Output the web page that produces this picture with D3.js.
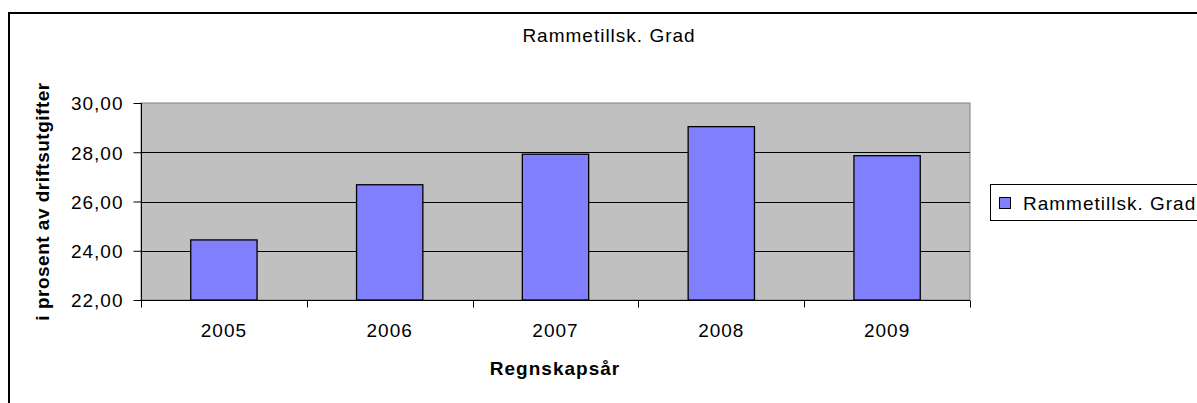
<!DOCTYPE html>
<html>
<head>
<meta charset="utf-8">
<script src="https://cdn.jsdelivr.net/npm/d3@7"></script>
<style>
  body { margin: 0; background: #fff; }
  text { font-family: "Liberation Sans", Arial, sans-serif; fill: #000; }
</style>
</head>
<body>
<script>
var years = ['2005', '2006', '2007', '2008', '2009'];
var values = [24.44, 26.68, 27.92, 29.04, 27.86];
var yTicks = [22, 24, 26, 28, 30];
var seriesName = 'Rammetillsk. Grad';

var width = 1197,
	height = 403,
	plotLeft = 141,
	plotRight = 970,
	plotTop = 103,
	plotBottom = 300;

var svg = d3.select('body').append('svg')
	.attr('width', width)
	.attr('height', height);

// outer chart frame (runs off the page right and bottom)
svg.append('rect')
	.attr('x', 9).attr('y', 13)
	.attr('width', 1300).attr('height', 500)
	.attr('fill', '#fff')
	.attr('stroke', '#000')
	.attr('stroke-width', 2);

var xScale = d3.scaleBand()
	.domain(years)
	.range([plotLeft, plotRight]);

var yScale = d3.scaleLinear()
	.domain([22, 30])
	.range([plotBottom, plotTop]);

// plot background
svg.append('rect')
	.attr('x', plotLeft).attr('y', plotTop)
	.attr('width', plotRight - plotLeft).attr('height', plotBottom - plotTop)
	.attr('fill', '#c0c0c0')
	.attr('stroke', '#808080');

// gridlines
svg.selectAll('.grid')
	.data(yTicks.slice(1, -1))
	.enter().append('line')
		.attr('x1', plotLeft).attr('x2', plotRight)
		.attr('y1', function(d){ return Math.round(yScale(d)) + 0.5 })
		.attr('y2', function(d){ return Math.round(yScale(d)) + 0.5 })
		.attr('stroke', '#000');

// bars, 150% gap like excel
var bw = xScale.bandwidth() * 0.4;
svg.selectAll('.bar')
	.data(values)
	.enter().append('rect')
		.attr('x', function(d, i){ return xScale(years[i]) + xScale.bandwidth() * 0.3 })
		.attr('y', function(d){ return yScale(d) })
		.attr('width', bw)
		.attr('height', function(d){ return plotBottom - yScale(d) })
		.attr('fill', '#8080ff')
		.attr('stroke', '#000')
		.attr('stroke-width', 1.3);

// y axis
var yAxis = d3.axisLeft(yScale)
	.tickValues(yTicks)
	.tickSize(8)
	.tickPadding(10)
	.tickFormat(function(d){ return d3.format('.2f')(d).replace('.', ',') });

var gy = svg.append('g')
	.attr('transform', 'translate(' + (plotLeft + 0.5) + ',0)')
	.call(yAxis);
gy.select('.domain').attr('stroke', '#000').attr('d', 'M0,' + plotTop + 'V' + plotBottom);
gy.selectAll('.tick line').attr('stroke', '#000');
gy.selectAll('.tick text')
	.style('font-size', '19px')
	.style('letter-spacing', '1px')
	.attr('dy', '0.36em');

// x axis: ticks at category boundaries
var gx = svg.append('g')
	.attr('transform', 'translate(0,' + (plotBottom + 0.5) + ')');
gx.append('line')
	.attr('x1', plotLeft).attr('x2', plotRight)
	.attr('stroke', '#000');
var bounds = years.map(function(y){ return xScale(y) }).concat([plotRight]);
gx.selectAll('.xt')
	.data(bounds)
	.enter().append('line')
		.attr('x1', function(d){ return Math.round(d) + 0.5 })
		.attr('x2', function(d){ return Math.round(d) + 0.5 })
		.attr('y1', 0).attr('y2', 7)
		.attr('stroke', '#000');
gx.selectAll('.xl')
	.data(years)
	.enter().append('text')
		.attr('x', function(d){ return xScale(d) + xScale.bandwidth() / 2 })
		.attr('y', 36)
		.attr('text-anchor', 'middle')
		.style('font-size', '19px')
		.style('letter-spacing', '1px')
		.text(function(d){ return d });

// titles
svg.append('text')
	.attr('x', 609).attr('y', 42)
	.attr('text-anchor', 'middle')
	.style('font-size', '19px')
	.style('letter-spacing', '1px')
	.text(seriesName);

svg.append('text')
	.attr('x', 555).attr('y', 375)
	.attr('text-anchor', 'middle')
	.style('font-size', '19px')
	.style('font-weight', 'bold')
	.style('letter-spacing', '1px')
	.text('Regnskapsår');

svg.append('text')
	.attr('transform', 'translate(49,' + ((plotTop + plotBottom) / 2) + ') rotate(-90)')
	.attr('text-anchor', 'middle')
	.style('font-size', '19px')
	.style('font-weight', 'bold')
	.style('letter-spacing', '0.5px')
	.text('i prosent av driftsutgifter');

// legend
var lg = svg.append('g');
lg.append('rect')
	.attr('x', 990.5).attr('y', 184.5)
	.attr('width', 300).attr('height', 36)
	.attr('fill', '#fff')
	.attr('stroke', '#000');
lg.append('rect')
	.attr('x', 999.5).attr('y', 197.5)
	.attr('width', 11).attr('height', 11)
	.attr('fill', '#8080ff')
	.attr('stroke', '#000');
lg.append('text')
	.attr('x', 1023).attr('y', 210)
	.style('font-size', '19px')
	.style('letter-spacing', '1px')
	.text(seriesName);
</script>
</body>
</html>
